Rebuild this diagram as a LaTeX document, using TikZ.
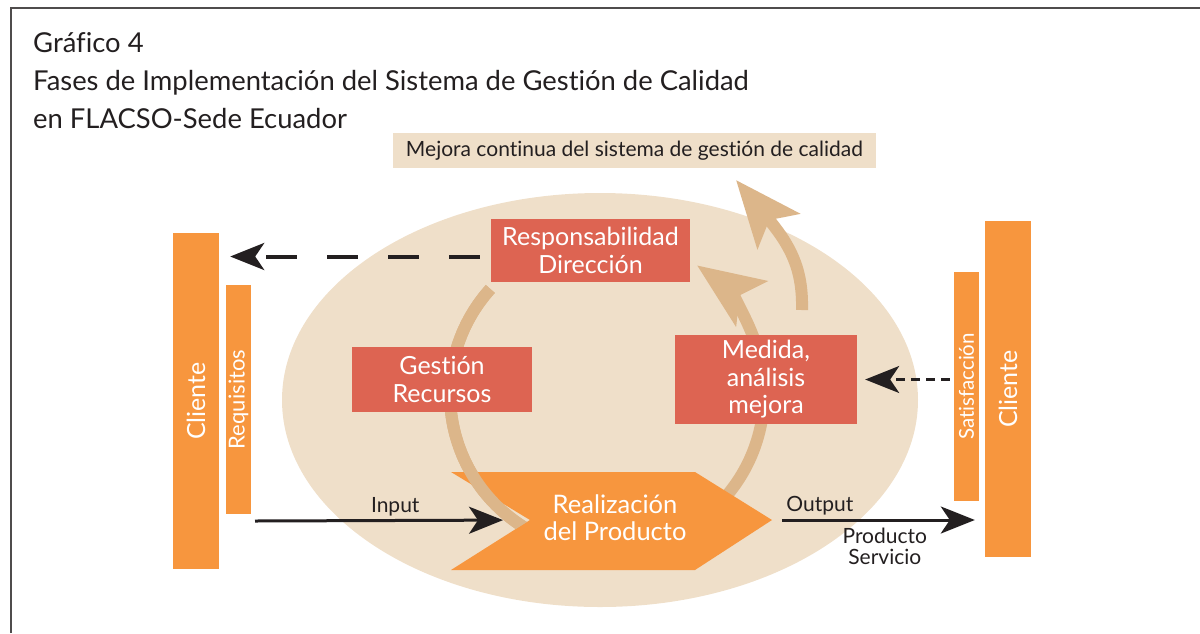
\documentclass[tikz,border=0pt]{standalone}
\usepackage{fontspec}
\setmainfont{Lato}[Ligatures=NoCommon]
\usetikzlibrary{arrows.meta}

\definecolor{sgcBeige}{HTML}{EFDFC9}
\definecolor{sgcTan}{HTML}{DCB68A}
\definecolor{sgcRed}{HTML}{DD6452}
\definecolor{sgcOrange}{HTML}{F7963E}
\definecolor{sgcInk}{HTML}{231F20}

\begin{document}
\begin{tikzpicture}[x=1pt, y=-1pt,
        titletext/.style={anchor=base west, text=sgcInk, inner sep=0pt, font=\fontsize{27.4}{30}\selectfont},
        redbox/.style={fill=sgcRed, text=white, align=center, inner sep=0pt, font=\fontsize{25}{27.5}\selectfont},
        orangebar/.style={fill=sgcOrange, text=white, inner sep=0pt},
        cyclearc/.style={draw=sgcTan, line width=12pt},
        bigtip/.style={-{Stealth[length=66pt, width=54pt, inset=14pt]}},
        blacktip/.style={-{Stealth[length=34pt, width=27pt, inset=9pt]}},
        lbl/.style={text=sgcInk, inner sep=3pt, font=\fontsize{21}{21}\selectfont}]

        \useasboundingbox (0,0) rectangle (1200,633);

        % Frame
        \draw[sgcInk!80, line width=1.5pt] (11,633) -- (11,8) -- (1200,8);

        % Title
        \node[titletext] (tit1) at (33,52) {Gráfico 4};
        \node[titletext] (tit2) at (33,90) {Fases de Implementación del Sistema de Gestión de Calidad};
        \node[titletext] (tit3) at (33,128) {en FLACSO-Sede Ecuador};

        % Banner
        \node[fill=sgcBeige, text=sgcInk, minimum width=483, minimum height=35, inner sep=0pt,
            font=\fontsize{21}{22}\selectfont] (mejora) at (634.5,150.5)
            {Mejora continua del sistema de gestión de calidad};

        % Background ellipse
        \fill[sgcBeige] (600,400) ellipse [x radius=318, y radius=207];

        % Cycle arrows
        \draw[cyclearc, bigtip] (607,394) ++(222:157) arc[start angle=222, end angle=-55, radius=157];
        \draw[cyclearc, bigtip] (802,310) .. controls (803,268) and (790,245) .. (736,180);

        % Chevron
        \coordinate (notch) at (530,520);
        \coordinate (ptip) at (772,520);
        \fill[sgcOrange] (451,472) -- (695,472) -- (ptip) -- (695,570) -- (451,570) -- (notch) -- cycle;
        \node[text=white, align=center, inner sep=0pt, font=\fontsize{25.5}{27}\selectfont] (prod) at (615,518)
            {Realización\\del Producto};

        % Arc over the upper wing
        \begin{scope}
            \clip (400,250) -- (600,250) -- (600,470) -- (530,520) -- (420,590) -- cycle;
            \draw[cyclearc] (607,394) ++(222:157) arc[start angle=222, end angle=100, radius=157];
        \end{scope}

        % Boxes
        \node[redbox, minimum width=199, minimum height=63] (resp) at (590.5,250.5) {Responsabilidad\\Dirección};
        \node[redbox, minimum width=180, minimum height=65] (gest) at (442,379.5) {Gestión\\Recursos};
        \node[redbox, minimum width=182, minimum height=89] (med) at (766,379.5) {Medida,\\análisis\\mejora};

        % Bars
        \node[orangebar, minimum width=46, minimum height=336, font=\fontsize{25}{26}\selectfont] (cliL) at (196,401)
            {\rotatebox{90}{Cliente}};
        \node[orangebar, minimum width=25, minimum height=229, font=\fontsize{22}{23}\selectfont] (req) at (238.5,399.5)
            {\rotatebox{90}{Requisitos}};
        \node[orangebar, minimum width=25, minimum height=229, font=\fontsize{20.5}{22}\selectfont] (sat) at (966.5,386.5)
            {\rotatebox{90}{Satisfacción}};
        \node[orangebar, minimum width=46, minimum height=336, font=\fontsize{25}{26}\selectfont] (cliR) at (1008,389)
            {\rotatebox{90}{Cliente}};

        % Connectors
        \coordinate (inS) at (255,521);
        \draw[sgcInk, line width=4pt, blacktip, dash pattern=on 31pt off 30pt, dash phase=50pt, shorten >=11pt]
            ([yshift=-6pt]resp.west) -- ([yshift=-6pt]resp.west -| cliL.east);
        \draw[sgcInk, line width=2.5pt, blacktip, dash pattern=on 9pt off 6pt, shorten <=4pt, shorten >=8pt]
            (sat.west |- med.east) -- (med.east);
        \draw[sgcInk, line width=3pt, blacktip, shorten >=27pt] (inS) -- (notch)
            node[lbl, pos=0.51, above] (inLbl) {Input};
        \draw[sgcInk, line width=3pt, blacktip, shorten <=10pt, shorten >=10pt] (ptip) -- (ptip -| cliR.west)
            node[lbl, pos=0.225, above] (outLbl) {Output}
            node[lbl, pos=0.53, below, align=center, yshift=-4pt] (prodLbl) {Producto\\Servicio};

\end{tikzpicture}
\end{document}
